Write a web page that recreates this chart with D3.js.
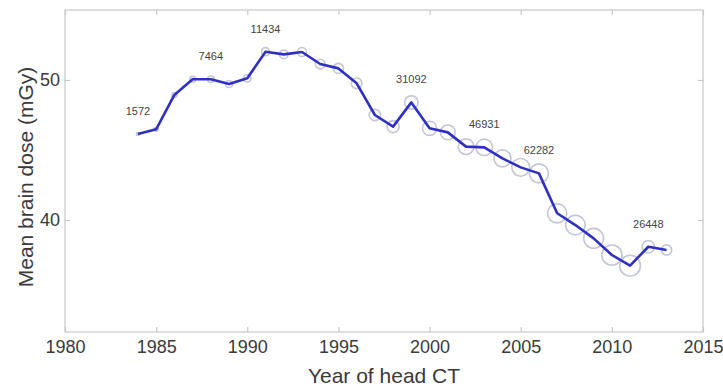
<!DOCTYPE html>
<html><head><meta charset="utf-8">
<script src="https://cdn.jsdelivr.net/npm/d3@7"></script>
<style>body{margin:0;background:#fff}svg{display:block}</style>
</head><body>
<svg id="c" width="723" height="387"></svg>
<script>
const years = [1984,1985,1986,1987,1988,1989,1990,1991,1992,1993,1994,1995,1996,1997,1998,1999,2000,2001,2002,2003,2004,2005,2006,2007,2008,2009,2010,2011,2012,2013];
const doses = [46.14,46.48,48.93,50.05,50.05,49.71,50.12,52.02,51.83,52.0,51.14,50.83,49.76,47.5,46.67,48.4,46.55,46.26,45.24,45.19,44.4,43.76,43.33,40.48,39.64,38.69,37.5,36.74,38.09,37.86];
const counts = [1572,2500,4000,6000,7464,8500,10000,11434,12500,14000,16000,17500,19500,22000,25000,31092,35000,38000,42000,46931,50000,55000,62282,64000,66000,68000,70000,74000,26448,18000];
const labelYears = [1984,1988,1991,1999,2003,2006,2012];
const xTicks = [1980,1985,1990,1995,2000,2005,2010,2015];
const yTicks = [40,50];

const svg = d3.select("#c");
const m = {l:65, r:703, t:10, b:332};
const x = d3.scaleLinear().domain([1980,2015]).range([m.l,m.r]);
const y = d3.scaleLinear().domain([32,55]).range([m.b,m.t]);
const r = d3.scaleSqrt().domain([0,62282]).range([0,9.5]);
const font = "Liberation Sans, Arial, sans-serif";
const txt = "#3a3a3a";

// box
svg.append("rect").attr("x",m.l).attr("y",m.t).attr("width",m.r-m.l).attr("height",m.b-m.t)
  .attr("fill","#fff").attr("stroke","#c8c8c8").attr("stroke-width",1.2);

// axes
const ax = svg.append("g").attr("transform",`translate(0,${m.b})`)
  .call(d3.axisBottom(x).tickValues(xTicks).tickFormat(d3.format("d")).tickSize(-5).tickPadding(8));
const axT = svg.append("g").attr("transform",`translate(0,${m.t})`)
  .call(d3.axisTop(x).tickValues(xTicks).tickSize(-5).tickFormat(""));
const ay = svg.append("g").attr("transform",`translate(${m.l},0)`)
  .call(d3.axisLeft(y).tickValues(yTicks).tickSize(-5).tickPadding(5));
const ayR = svg.append("g").attr("transform",`translate(${m.r},0)`)
  .call(d3.axisRight(y).tickValues(yTicks).tickSize(-5).tickFormat(""));
[ax,axT,ay,ayR].forEach(g=>{
  g.select(".domain").remove();
  g.selectAll(".tick line").attr("stroke","#c8c8c8").attr("stroke-width",1.2);
  g.selectAll("text").attr("font-family",font).attr("font-size",18).attr("fill",txt);
});

// circles
svg.append("g").selectAll("circle").data(years).join("circle")
  .attr("cx",(d,i)=>x(d)).attr("cy",(d,i)=>y(doses[i])).attr("r",(d,i)=>r(counts[i]))
  .attr("fill","none").attr("stroke","#c3c6d6").attr("stroke-width",1.6);

// line
svg.append("path").datum(years)
  .attr("d",d3.line().x(d=>x(d)).y((d,i)=>y(doses[i])))
  .attr("fill","none").attr("stroke","#3030c0").attr("stroke-width",2.6).attr("stroke-linejoin","round");

// count labels
svg.append("g").selectAll("text").data(labelYears).join("text")
  .attr("x",d=>x(d)).attr("y",d=>y(doses[years.indexOf(d)])-19)
  .attr("text-anchor","middle").attr("font-family",font).attr("font-size",11).attr("fill","#444")
  .text(d=>counts[years.indexOf(d)]);

// axis titles
svg.append("text").attr("x",384).attr("y",383).attr("text-anchor","middle")
  .attr("font-family",font).attr("font-size",21).attr("fill",txt).text("Year of head CT");
svg.append("text").attr("transform",`translate(33,177) rotate(-90)`).attr("text-anchor","middle")
  .attr("font-family",font).attr("font-size",21).attr("fill",txt).text("Mean brain dose (mGy)");
</script>
</body></html>
